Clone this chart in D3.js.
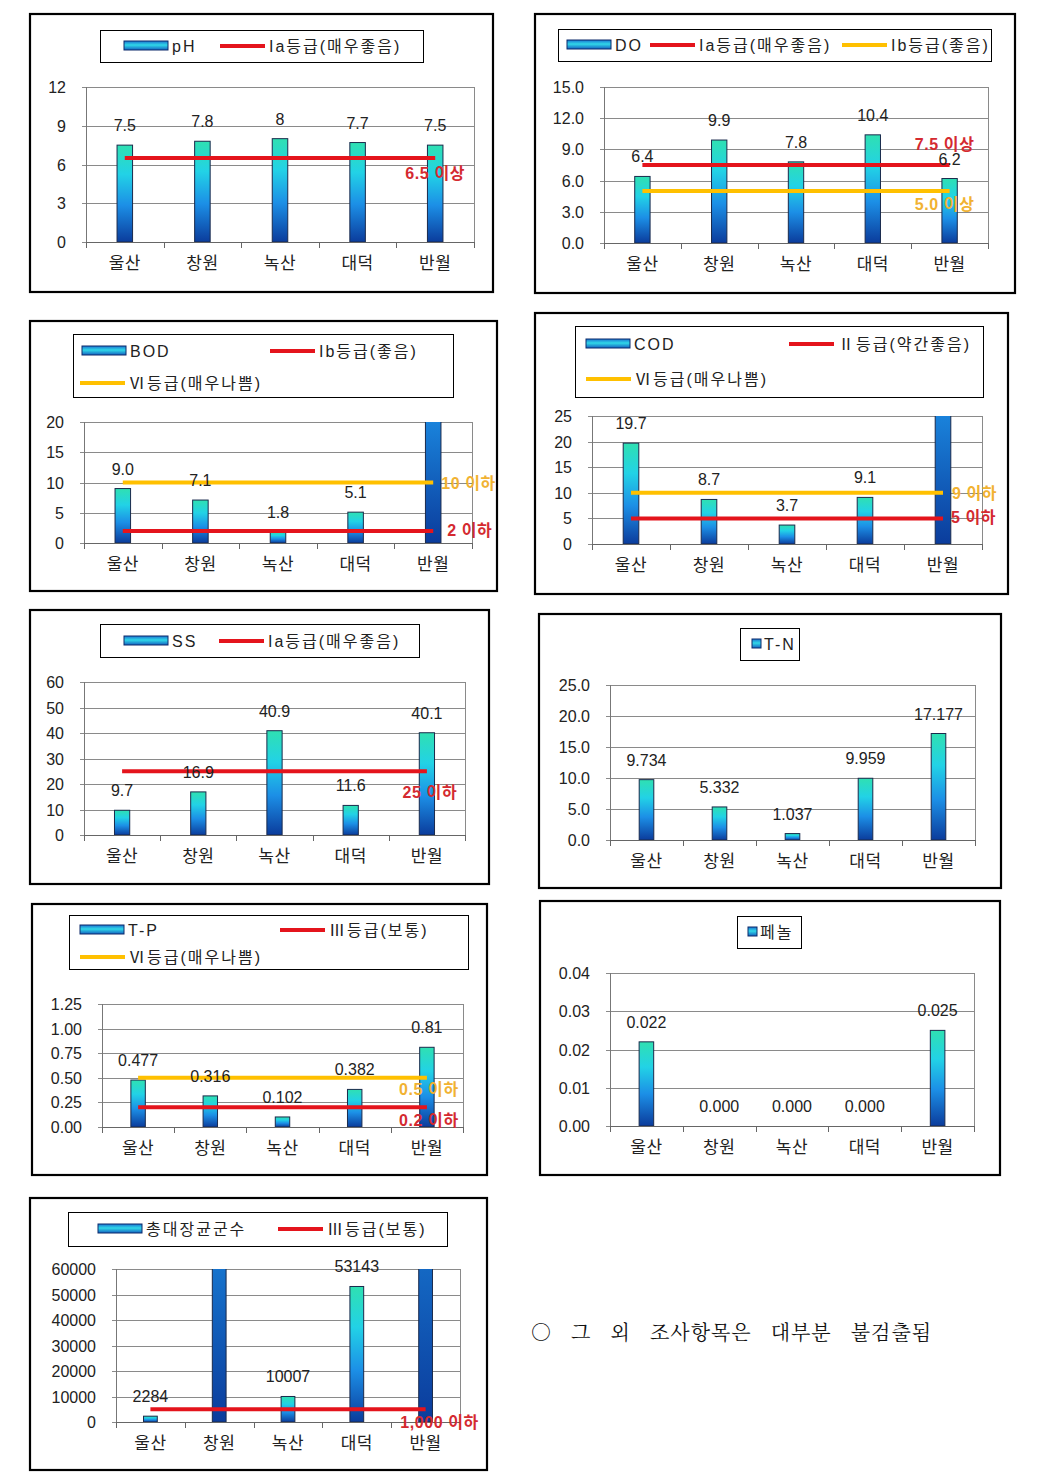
<!DOCTYPE html>
<html><head><meta charset="utf-8">
<script src="https://cdn.jsdelivr.net/npm/d3@7"></script>
<style>body{margin:0;background:#fff} svg{display:block}</style>
</head><body><svg id="c" width="1043" height="1476"></svg>
<script>
// ---------------- DATA ----------------
const categories = ["울산", "창원", "녹산", "대덕", "반월"];

const phValues = [7.5, 7.8, 8, 7.7, 7.5];
const doValues = [6.4, 9.9, 7.8, 10.4, 6.2];
const bodValues = [9.0, 7.1, 1.8, 5.1, 62];        // 반월 off the scale
const codValues = [19.7, 8.7, 3.7, 9.1, 78];       // 반월 off the scale
const ssValues = [9.7, 16.9, 40.9, 11.6, 40.1];
const tnValues = [9.734, 5.332, 1.037, 9.959, 17.177];
const tpValues = [0.477, 0.316, 0.102, 0.382, 0.81];
const phenolValues = [0.022, 0, 0, 0, 0.025];
const coliformValues = [2284, 240000, 10007, 53143, 300000]; // 창원, 반월 off the scale

const phTicks = [0, 3, 6, 9, 12];
const doTicks = [0, 3, 6, 9, 12, 15];
const bodTicks = [0, 5, 10, 15, 20];
const codTicks = [0, 5, 10, 15, 20, 25];
const ssTicks = [0, 10, 20, 30, 40, 50, 60];
const tnTicks = [0, 5, 10, 15, 20, 25];
const tpTicks = [0, 0.25, 0.5, 0.75, 1.0, 1.25];
const phenolTicks = [0, 0.01, 0.02, 0.03, 0.04];
const coliformTicks = [0, 10000, 20000, 30000, 40000, 50000, 60000];

const phThresholds = [6.5];           const phThresholdLabels = ["6.5 이상"];
const doThresholds = [7.5, 5.0];      const doThresholdLabels = ["7.5 이상", "5.0 이상"];
const bodThresholds = [10, 2];        const bodThresholdLabels = ["10 이하", "2 이하"];
const codThresholds = [10, 5];        const codThresholdLabels = ["9 이하", "5 이하"];
const ssThresholds = [25];            const ssThresholdLabels = ["25 이하"];
const tpThresholds = [0.5, 0.2];      const tpThresholdLabels = ["0.5 이하", "0.2 이하"];
const coliformThresholds = [5000];    const coliformThresholdLabels = ["1,000 이하"];

const phLegend = ["pH", "Ia등급(매우좋음)"];
const doLegend = ["DO", "Ia등급(매우좋음)", "Ib등급(좋음)"];
const bodLegend = ["BOD", "Ib등급(좋음)", "Ⅵ등급(매우나쁨)"];
const codLegend = ["COD", "Ⅱ등급(약간좋음)", "Ⅵ등급(매우나쁨)"];
const ssLegend = ["SS", "Ia등급(매우좋음)"];
const tnLegend = ["T-N"];
const tpLegend = ["T-P", "Ⅲ등급(보통)", "Ⅵ등급(매우나쁨)"];
const phenolLegend = ["페놀"];
const coliformLegend = ["총대장균군수", "Ⅲ등급(보통)"];

const noteText = "○ 그 외 조사항목은 대부분 불검출됨";

// ---------------- STYLE / LAYOUT ----------------
const RED = "#e4141c", YEL = "#ffc000";
const RED_T = "#d42a30", YEL_T = "#f1b232";
const gen = d => String(d);
const f1 = d3.format(".1f"), f2 = d3.format(".2f"), f3 = d3.format(".3f"), fd = d3.format("d");

const panels = [
  { values: phValues, ticks: phTicks, tickFmt: fd, labFmt: gen,
    thr: phThresholds, thrLab: phThresholdLabels, thrColor: [RED], thrText: [RED_T],
    thrPos: [{a: "middle", dx: 0, dy: 21}],
    box: [30, 14, 493, 292], legBox: [100, 30, 423, 62], plot: [86, 87, 474, 242],
    legend: phLegend, legItems: [{t: "bar", x: 124, y: 46}, {t: "line", c: RED, x: 220, y: 46}] },
  { values: doValues, ticks: doTicks, tickFmt: f1, labFmt: f1,
    thr: doThresholds, thrLab: doThresholdLabels, thrColor: [RED, YEL], thrText: [RED_T, YEL_T],
    thrPos: [{a: "middle", dx: -5, dy: -15}, {a: "middle", dx: -5, dy: 19}],
    box: [535, 14, 1015, 293], legBox: [558, 29, 991, 61], plot: [604, 87, 988, 243],
    legend: doLegend, legItems: [{t: "bar", x: 567, y: 45}, {t: "line", c: RED, x: 650, y: 45}, {t: "line", c: YEL, x: 842, y: 45}] },
  { values: bodValues, ticks: bodTicks, tickFmt: fd, labFmt: f1,
    thr: bodThresholds, thrLab: bodThresholdLabels, thrColor: [YEL, RED], thrText: [YEL_T, RED_T],
    thrPos: [{a: "start", dx: 8, dy: 6}, {a: "start", dx: 14, dy: 5}],
    box: [30, 321, 497, 591], legBox: [73, 334, 453, 397], plot: [84, 422, 472, 543],
    legend: bodLegend, legItems: [{t: "bar", x: 82, y: 351}, {t: "line", c: RED, x: 270, y: 351}, {t: "line", c: YEL, x: 80, y: 383}] },
  { values: codValues, ticks: codTicks, tickFmt: fd, labFmt: f1,
    thr: codThresholds, thrLab: codThresholdLabels, thrColor: [YEL, RED], thrText: [YEL_T, RED_T],
    thrPos: [{a: "start", dx: 9, dy: 6}, {a: "start", dx: 8, dy: 5}],
    box: [535, 313, 1008, 594], legBox: [575, 326, 983, 397], plot: [592, 416, 982, 544],
    legend: codLegend, legItems: [{t: "bar", x: 586, y: 344}, {t: "line", c: RED, x: 789, y: 344}, {t: "line", c: YEL, x: 586, y: 379}] },
  { values: ssValues, ticks: ssTicks, tickFmt: fd, labFmt: f1,
    thr: ssThresholds, thrLab: ssThresholdLabels, thrColor: [RED], thrText: [RED_T],
    thrPos: [{a: "middle", dx: 3, dy: 27}],
    box: [30, 610, 489, 884], legBox: [100, 624, 419, 657], plot: [84, 682, 465, 835],
    legend: ssLegend, legItems: [{t: "bar", x: 124, y: 641}, {t: "line", c: RED, x: 219, y: 641}] },
  { values: tnValues, ticks: tnTicks, tickFmt: f1, labFmt: f3,
    thr: [], thrLab: [], thrColor: [], thrText: [], thrPos: [],
    box: [539, 614, 1001, 888], legBox: [740, 628, 799, 660], plot: [610, 685, 975, 840],
    legend: tnLegend, legItems: [{t: "sq", x: 752, y: 644}] },
  { values: tpValues, ticks: tpTicks, tickFmt: f2, labFmt: gen,
    thr: tpThresholds, thrLab: tpThresholdLabels, thrColor: [YEL, RED], thrText: [YEL_T, RED_T],
    thrPos: [{a: "middle", dx: 2, dy: 17}, {a: "middle", dx: 2, dy: 19}],
    box: [32, 904, 487, 1175], legBox: [69, 915, 468, 969], plot: [102, 1004, 463, 1127],
    legend: tpLegend, legItems: [{t: "bar", x: 80, y: 930}, {t: "line", c: RED, x: 280, y: 930}, {t: "line", c: YEL, x: 80, y: 957}] },
  { values: phenolValues, ticks: phenolTicks, tickFmt: f2, labFmt: f3,
    thr: [], thrLab: [], thrColor: [], thrText: [], thrPos: [],
    box: [540, 901, 1000, 1175], legBox: [737, 916, 801, 948], plot: [610, 973, 974, 1126],
    legend: phenolLegend, legItems: [{t: "sq", x: 748, y: 932}] },
  { values: coliformValues, ticks: coliformTicks, tickFmt: fd, labFmt: fd,
    thr: coliformThresholds, thrLab: coliformThresholdLabels, thrColor: [RED], thrText: [RED_T],
    thrPos: [{a: "middle", dx: 14, dy: 19}],
    box: [30, 1198, 487, 1470], legBox: [68, 1212, 447, 1246], plot: [116, 1269, 460, 1422],
    legend: coliformLegend, legItems: [{t: "bar", x: 98, y: 1229}, {t: "line", c: RED, x: 278, y: 1229}] }
];

const FONT = "'Liberation Sans', 'Noto Sans CJK KR', Arial, sans-serif";
const KFONT = "'Noto Sans CJK KR', 'Liberation Sans', sans-serif";

const svg = d3.select("#c");
const defs = svg.append("defs");
const g1 = defs.append("linearGradient").attr("id", "barGrad").attr("x1", 0).attr("y1", 0).attr("x2", 0).attr("y2", 1);
[[0, "#2fe0b2"], [0.3, "#22d2e6"], [0.62, "#1c8fe6"], [1, "#0b3c9c"]].forEach(([o, c]) =>
  g1.append("stop").attr("offset", o).attr("stop-color", c));
const g2 = defs.append("linearGradient").attr("id", "legGrad").attr("x1", 0).attr("y1", 0).attr("x2", 0).attr("y2", 1);
[[0, "#1a72d0"], [0.45, "#30d8e8"], [1, "#1460c0"]].forEach(([o, c]) =>
  g2.append("stop").attr("offset", o).attr("stop-color", c));

svg.append("rect").attr("width", 1043).attr("height", 1476).attr("fill", "#fff");

panels.forEach((p, pi) => {
  const g = svg.append("g");
  const [bx0, by0, bx1, by1] = p.box;
  g.append("rect").attr("x", bx0).attr("y", by0).attr("width", bx1 - bx0).attr("height", by1 - by0)
    .attr("fill", "#fff").attr("stroke", "#000").attr("stroke-width", 2.2);

  // legend
  const [lx0, ly0, lx1, ly1] = p.legBox;
  const lid = "lclip" + pi;
  defs.append("clipPath").attr("id", lid).append("rect")
    .attr("x", lx0).attr("y", ly0).attr("width", lx1 - lx0).attr("height", ly1 - ly0);
  g.append("rect").attr("x", lx0 + 0.5).attr("y", ly0 + 0.5).attr("width", lx1 - lx0).attr("height", ly1 - ly0)
    .attr("fill", "#fff").attr("stroke", "#000").attr("stroke-width", 1);
  const lg = g.append("g").attr("clip-path", `url(#${lid})`);
  p.legItems.forEach((it, k) => {
    let tx;
    if (it.t === "bar") {
      lg.append("rect").attr("x", it.x).attr("y", it.y - 5).attr("width", 44).attr("height", 9)
        .attr("fill", "url(#legGrad)").attr("stroke", "#0d2a6a").attr("stroke-width", 1);
      tx = it.x + 48;
    } else if (it.t === "line") {
      lg.append("line").attr("x1", it.x).attr("x2", it.x + 45).attr("y1", it.y).attr("y2", it.y)
        .attr("stroke", it.c).attr("stroke-width", 4);
      tx = it.x + 49;
    } else {
      lg.append("rect").attr("x", it.x).attr("y", it.y - 5).attr("width", 9).attr("height", 9)
        .attr("fill", "url(#legGrad)").attr("stroke", "#0d2a6a").attr("stroke-width", 1);
      tx = it.x + 12;
    }
    lg.append("text").attr("x", tx).attr("y", it.y + 6).text(p.legend[k])
      .attr("font-family", FONT).attr("font-size", 16).attr("letter-spacing", 2).attr("fill", "#222");
  });

  // plot
  const [pl, pt, pr, pb] = p.plot;
  const yMax = p.ticks[p.ticks.length - 1];
  const y = d3.scaleLinear().domain([0, yMax]).range([pb, pt]);
  const x = d3.scaleBand().domain(categories).range([pl, pr]).paddingInner(0.8).paddingOuter(0.4);
  const step = x.step();

  g.selectAll(".grid").data(p.ticks).join("line")
    .attr("x1", pl - 4).attr("x2", pr).attr("y1", d => Math.round(y(d)) + 0.5).attr("y2", d => Math.round(y(d)) + 0.5)
    .attr("stroke", "#8a8a8a").attr("stroke-width", 1);
  g.append("line").attr("x1", pr + 0.5).attr("x2", pr + 0.5).attr("y1", pt).attr("y2", pb).attr("stroke", "#8a8a8a");
  g.append("line").attr("x1", pl + 0.5).attr("x2", pl + 0.5).attr("y1", pt).attr("y2", pb).attr("stroke", "#777");
  g.selectAll(".yl").data(p.ticks).join("text")
    .attr("x", pl - 20).attr("y", d => y(d) + 6).attr("text-anchor", "end")
    .attr("font-family", FONT).attr("font-size", 16).attr("fill", "#222").text(p.tickFmt);

  const cid = "clip" + pi;
  defs.append("clipPath").attr("id", cid).append("rect")
    .attr("x", pl).attr("y", pt).attr("width", pr - pl).attr("height", pb - pt);

  const data = categories.map((c, i) => ({c, v: p.values[i]}));
  g.append("g").attr("clip-path", `url(#${cid})`).selectAll("rect").data(data.filter(d => d.v > 0)).join("rect")
    .attr("x", d => x(d.c)).attr("width", x.bandwidth())
    .attr("y", d => y(d.v)).attr("height", d => pb - y(d.v))
    .attr("fill", "url(#barGrad)").attr("stroke", "#1a2a4c").attr("stroke-width", 1);

  g.append("line").attr("x1", pl).attr("x2", pr + 1).attr("y1", pb + 0.5).attr("y2", pb + 0.5).attr("stroke", "#666");
  g.selectAll(".xt").data(d3.range(categories.length + 1)).join("line")
    .attr("x1", i => Math.round(pl + i * step) + 0.5).attr("x2", i => Math.round(pl + i * step) + 0.5)
    .attr("y1", pb).attr("y2", pb + 6).attr("stroke", "#666");
  g.selectAll(".xl").data(categories).join("text")
    .attr("x", d => x(d) + x.bandwidth() / 2).attr("y", pb + 27).attr("text-anchor", "middle")
    .attr("font-family", KFONT).attr("font-size", 17).attr("letter-spacing", 0.5).attr("fill", "#222").text(d => d);

  const c0 = x(categories[0]) + x.bandwidth() / 2;
  const c1 = x(categories[categories.length - 1]) + x.bandwidth() / 2;
  p.thr.forEach((t, k) => {
    g.append("line").attr("x1", c0).attr("x2", c1).attr("y1", y(t)).attr("y2", y(t))
      .attr("stroke", p.thrColor[k]).attr("stroke-width", 4);
  });

  g.selectAll(".dl").data(data.filter(d => d.v <= yMax)).join("text")
    .attr("x", d => x(d.c) + x.bandwidth() / 2).attr("y", d => y(d.v) - 14).attr("text-anchor", "middle")
    .attr("font-family", FONT).attr("font-size", 16).attr("fill", "#222").text(d => p.labFmt(d.v));

  p.thr.forEach((t, k) => {
    const pos = p.thrPos[k];
    g.append("text").attr("x", c1 + pos.dx).attr("y", y(t) + pos.dy).attr("text-anchor", pos.a)
      .attr("font-family", FONT).attr("font-size", 16).attr("font-weight", "bold").attr("letter-spacing", 0.6)
      .attr("fill", p.thrText[k]).text(p.thrLab[k]);
  });
});

svg.append("text").attr("x", 531).attr("y", 1340).text(noteText)
  .attr("font-family", "'Noto Serif CJK KR', 'Noto Sans CJK KR', serif").attr("font-size", 20)
  .attr("letter-spacing", 1).attr("word-spacing", 13).attr("fill", "#111");
</script>
</body></html>
